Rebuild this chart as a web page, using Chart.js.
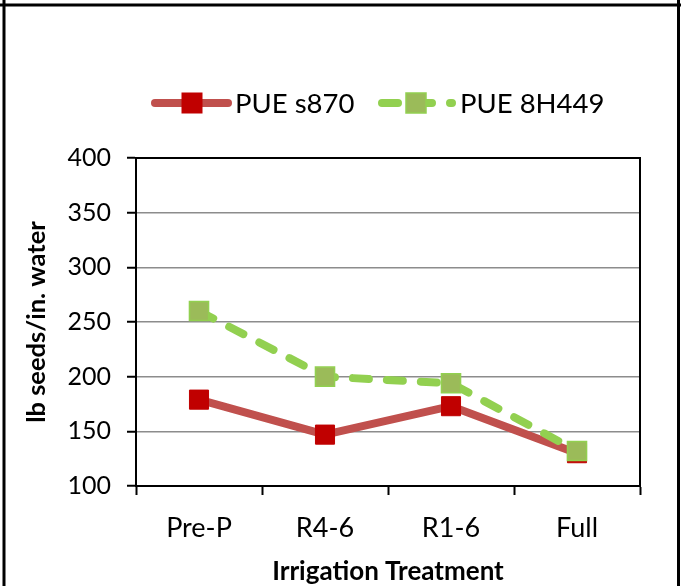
<!DOCTYPE html>
<html>
<head>
<meta charset="utf-8">
<script src="https://cdn.jsdelivr.net/npm/chart.js@4.4.1/dist/chart.umd.min.js"></script>
<style>
  html, body { margin: 0; padding: 0; background: #fff; }
  #wrap { width: 681px; height: 586px; position: relative; }
</style>
</head>
<body>
<div id="wrap"><canvas id="c" width="681" height="586"></canvas></div>
<script>
const categories = ['Pre-P', 'R4-6', 'R1-6', 'Full'];
const pueS870 = [179, 147, 173, 130];
const pue8H449 = [260, 200, 194, 132];
const seriesNames = ['PUE s870', 'PUE 8H449'];
const yMin = 100, yMax = 400, yStep = 50;
const yTitle = 'lb seeds/in. water';
const xTitle = 'Irrigation Treatment';

const FONT = 'Lato, "Open Sans", sans-serif';

const framePlugin = {
  id: 'frames',
  afterDraw(chart) {
    const ctx = chart.ctx;
    const a = chart.chartArea;
    ctx.save();
    // plot area frame (top & right)
    ctx.strokeStyle = '#000';
    ctx.lineWidth = 2;
    ctx.beginPath();
    ctx.moveTo(a.left, a.top);
    ctx.lineTo(a.right, a.top);
    ctx.lineTo(a.right, a.bottom);
    ctx.stroke();
    // outer frame
    ctx.lineWidth = 3;
    ctx.beginPath();
    ctx.moveTo(0, 5);
    ctx.lineTo(681, 5);
    ctx.moveTo(4, 0);
    ctx.lineTo(4, 586);
    ctx.moveTo(678.5, 0);
    ctx.lineTo(678.5, 586);
    ctx.stroke();

    // legend
    const items = [
      { ds: 0, x1: 155, x2: 228, mx: 192, tx: 235 },
      { ds: 1, x1: 382, x2: 452, mx: 416, tx: 460 }
    ];
    const ly = 103;
    items.forEach(it => {
      const d = chart.data.datasets[it.ds];
      ctx.save();
      ctx.strokeStyle = d.borderColor;
      ctx.lineWidth = d.borderWidth;
      ctx.lineCap = 'round';
      ctx.setLineDash(d.borderDash || []);
      ctx.beginPath();
      ctx.moveTo(it.x1, ly);
      ctx.lineTo(it.x2, ly);
      ctx.stroke();
      ctx.setLineDash([]);
      const s = 20;
      ctx.fillStyle = d.pointBackgroundColor;
      ctx.fillRect(it.mx - s / 2, ly - s / 2, s, s);
      ctx.strokeStyle = d.pointBorderColor;
      ctx.lineWidth = d.pointBorderWidth;
      ctx.strokeRect(it.mx - s / 2, ly - s / 2, s, s);
      ctx.fillStyle = '#000';
      ctx.font = '27.5px ' + FONT;
      ctx.textBaseline = 'middle';
      ctx.textAlign = 'left';
      ctx.fillText(d.label, it.tx, ly + 1);
      ctx.restore();
    });
    ctx.restore();
  }
};

new Chart(document.getElementById('c'), {
  type: 'line',
  data: {
    labels: categories,
    datasets: [
      {
        label: seriesNames[0],
        data: pueS870,
        borderColor: '#C0504D',
        borderWidth: 8,
        borderCapStyle: 'round',
        borderJoinStyle: 'round',
        pointStyle: 'rect',
        pointRadius: 13.5,
        pointHoverRadius: 13.5,
        pointBackgroundColor: '#C00000',
        pointBorderColor: '#C00000',
        pointBorderWidth: 1,
        tension: 0,
        order: 1
      },
      {
        label: seriesNames[1],
        data: pue8H449,
        borderColor: '#92D050',
        borderWidth: 8,
        borderDash: [16, 18],
        borderCapStyle: 'round',
        borderJoinStyle: 'round',
        pointStyle: 'rect',
        pointRadius: 13.5,
        pointHoverRadius: 13.5,
        pointBackgroundColor: '#9BBB59',
        pointBorderColor: '#92D050',
        pointBorderWidth: 1.5,
        tension: 0,
        order: 0
      }
    ]
  },
  options: {
    responsive: false,
    animation: false,
    devicePixelRatio: 1,
    layout: { padding: { top: 158, left: 21, right: 41, bottom: 0 } },
    plugins: {
      legend: { display: false },
      tooltip: { enabled: false }
    },
    scales: {
      x: {
        offset: true,
        grid: { offset: true, drawOnChartArea: false, tickColor: '#000', tickLength: 9, tickWidth: 2 },
        border: { color: '#000', width: 2 },
        ticks: { color: '#000', font: { family: FONT, size: 27 }, padding: 17, maxRotation: 0 },
        title: { display: true, text: xTitle, color: '#000', font: { family: FONT, size: 26, weight: 'bold', lineHeight: 1.1 }, padding: { top: 0, bottom: 0 } },
        afterFit(s) { s.height = 100; }
      },
      y: {
        min: yMin,
        max: yMax,
        grid: { color: '#8c8c8c', lineWidth: 1.5, tickColor: '#000', tickLength: 9, tickWidth: 2 },
        border: { color: '#000', width: 2 },
        ticks: { stepSize: yStep, color: '#000', font: { family: FONT, size: 25 }, padding: 16 },
        title: { display: true, text: yTitle, color: '#000', font: { family: FONT, size: 25.5, weight: 'bold' }, padding: { top: 0, bottom: 0 } },
        afterFit(s) { s.width = 115; }
      }
    }
  },
  plugins: [framePlugin]
});
</script>
</body>
</html>
